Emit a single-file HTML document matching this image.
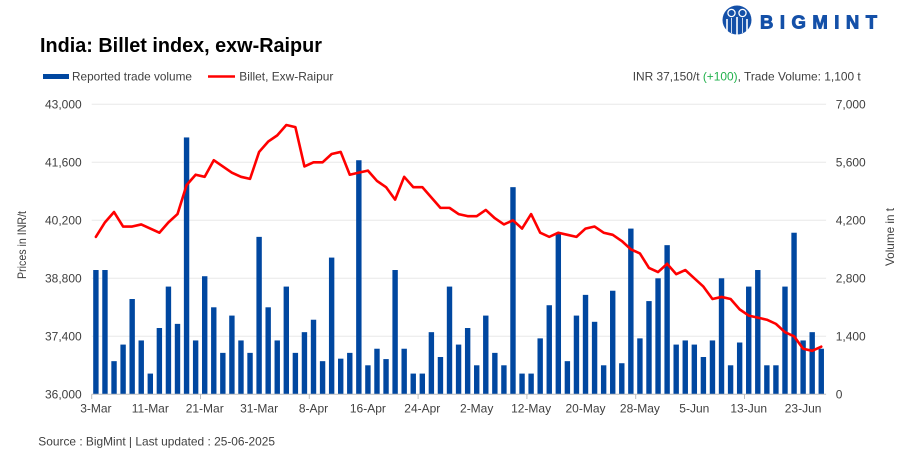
<!DOCTYPE html>
<html>
<head>
<meta charset="utf-8">
<style>
  html, body { margin: 0; padding: 0; background: #ffffff; }
  body { width: 913px; height: 464px; overflow: hidden; }
  svg { display: block; font-family: "Liberation Sans", Arial, sans-serif; }
  .lbl { font-size: 12px; fill: #404040; }
</style>
</head>
<body>
<svg width="913" height="464" viewBox="0 0 913 464" xmlns="http://www.w3.org/2000/svg">
  <rect x="0" y="0" width="913" height="464" fill="#ffffff"/>

  <!-- Logo -->
  <g>
    <circle cx="737" cy="20" r="14.5" fill="#1450a8"/>
    <circle cx="731.5" cy="13" r="3.6" fill="#1450a8" stroke="#ffffff" stroke-width="1.3"/>
    <circle cx="742.5" cy="13" r="3.6" fill="#1450a8" stroke="#ffffff" stroke-width="1.3"/>
    <path d="M727 19 L727 33 M737 17 L737 35 M747 19 L747 33" stroke="#ffffff" stroke-width="1.6" fill="none"/>
    <path d="M731.5 18 L731.5 33 M742.5 18 L742.5 33" stroke="#ffffff" stroke-width="0.8" fill="none"/>
    <text x="760" y="28.5" font-size="18.5" font-weight="bold" fill="#1450a8" stroke="#1450a8" stroke-width="0.9" textLength="117" lengthAdjust="spacing">BIGMINT</text>
  </g>

  <!-- Title -->
  <text x="40" y="52" font-size="20" font-weight="bold" fill="#000000" textLength="282" lengthAdjust="spacingAndGlyphs">India: Billet index, exw-Raipur</text>

  <!-- Legend -->
  <rect x="43" y="74" width="26" height="5" fill="#0047a0"/>
  <text class="lbl" x="72" y="80.3" fill="#262626" textLength="120" lengthAdjust="spacingAndGlyphs">Reported trade volume</text>
  <line x1="208" y1="76.5" x2="235" y2="76.5" stroke="#ff0000" stroke-width="2.5"/>
  <text class="lbl" x="239.3" y="80.3" textLength="94" lengthAdjust="spacingAndGlyphs">Billet, Exw-Raipur</text>

  <!-- Info -->
  <text class="lbl" x="632.7" y="80.3" textLength="228" lengthAdjust="spacingAndGlyphs">INR 37,150/t <tspan fill="#22b14c">(+100)</tspan>, Trade Volume: 1,100 t</text>

  <!-- Gridlines -->
  <g stroke="#e8e8e8" stroke-width="1">
    <line x1="91.7" y1="104.3" x2="826.1" y2="104.3"/>
    <line x1="91.7" y1="162.3" x2="826.1" y2="162.3"/>
    <line x1="91.7" y1="220.3" x2="826.1" y2="220.3"/>
    <line x1="91.7" y1="278.3" x2="826.1" y2="278.3"/>
    <line x1="91.7" y1="336.3" x2="826.1" y2="336.3"/>
  </g>

  <!-- Bars: data coords (index, volume) -->
  <g transform="translate(95.9,394.3) scale(9.067,-0.0414286)" fill="#0047a0">
    <rect x="-0.2978" y="0" width="0.5956" height="3000"/>
    <rect x="0.7022" y="0" width="0.5956" height="3000"/>
    <rect x="1.7022" y="0" width="0.5956" height="800"/>
    <rect x="2.7022" y="0" width="0.5956" height="1200"/>
    <rect x="3.7022" y="0" width="0.5956" height="2300"/>
    <rect x="4.7022" y="0" width="0.5956" height="1300"/>
    <rect x="5.7022" y="0" width="0.5956" height="500"/>
    <rect x="6.7022" y="0" width="0.5956" height="1600"/>
    <rect x="7.7022" y="0" width="0.5956" height="2600"/>
    <rect x="8.7022" y="0" width="0.5956" height="1700"/>
    <rect x="9.7022" y="0" width="0.5956" height="6200"/>
    <rect x="10.7022" y="0" width="0.5956" height="1300"/>
    <rect x="11.7022" y="0" width="0.5956" height="2850"/>
    <rect x="12.7022" y="0" width="0.5956" height="2100"/>
    <rect x="13.7022" y="0" width="0.5956" height="1000"/>
    <rect x="14.7022" y="0" width="0.5956" height="1900"/>
    <rect x="15.7022" y="0" width="0.5956" height="1300"/>
    <rect x="16.7022" y="0" width="0.5956" height="1000"/>
    <rect x="17.7022" y="0" width="0.5956" height="3800"/>
    <rect x="18.7022" y="0" width="0.5956" height="2100"/>
    <rect x="19.7022" y="0" width="0.5956" height="1300"/>
    <rect x="20.7022" y="0" width="0.5956" height="2600"/>
    <rect x="21.7022" y="0" width="0.5956" height="1000"/>
    <rect x="22.7022" y="0" width="0.5956" height="1500"/>
    <rect x="23.7022" y="0" width="0.5956" height="1800"/>
    <rect x="24.7022" y="0" width="0.5956" height="800"/>
    <rect x="25.7022" y="0" width="0.5956" height="3300"/>
    <rect x="26.7022" y="0" width="0.5956" height="860"/>
    <rect x="27.7022" y="0" width="0.5956" height="1000"/>
    <rect x="28.7022" y="0" width="0.5956" height="5650"/>
    <rect x="29.7022" y="0" width="0.5956" height="700"/>
    <rect x="30.7022" y="0" width="0.5956" height="1100"/>
    <rect x="31.7022" y="0" width="0.5956" height="850"/>
    <rect x="32.7022" y="0" width="0.5956" height="3000"/>
    <rect x="33.7022" y="0" width="0.5956" height="1100"/>
    <rect x="34.7022" y="0" width="0.5956" height="500"/>
    <rect x="35.7022" y="0" width="0.5956" height="500"/>
    <rect x="36.7022" y="0" width="0.5956" height="1500"/>
    <rect x="37.7022" y="0" width="0.5956" height="900"/>
    <rect x="38.7022" y="0" width="0.5956" height="2600"/>
    <rect x="39.7022" y="0" width="0.5956" height="1200"/>
    <rect x="40.7022" y="0" width="0.5956" height="1600"/>
    <rect x="41.7022" y="0" width="0.5956" height="700"/>
    <rect x="42.7022" y="0" width="0.5956" height="1900"/>
    <rect x="43.7022" y="0" width="0.5956" height="1000"/>
    <rect x="44.7022" y="0" width="0.5956" height="700"/>
    <rect x="45.7022" y="0" width="0.5956" height="5000"/>
    <rect x="46.7022" y="0" width="0.5956" height="500"/>
    <rect x="47.7022" y="0" width="0.5956" height="500"/>
    <rect x="48.7022" y="0" width="0.5956" height="1350"/>
    <rect x="49.7022" y="0" width="0.5956" height="2150"/>
    <rect x="50.7022" y="0" width="0.5956" height="3900"/>
    <rect x="51.7022" y="0" width="0.5956" height="800"/>
    <rect x="52.7022" y="0" width="0.5956" height="1900"/>
    <rect x="53.7022" y="0" width="0.5956" height="2400"/>
    <rect x="54.7022" y="0" width="0.5956" height="1750"/>
    <rect x="55.7022" y="0" width="0.5956" height="700"/>
    <rect x="56.7022" y="0" width="0.5956" height="2500"/>
    <rect x="57.7022" y="0" width="0.5956" height="750"/>
    <rect x="58.7022" y="0" width="0.5956" height="4000"/>
    <rect x="59.7022" y="0" width="0.5956" height="1350"/>
    <rect x="60.7022" y="0" width="0.5956" height="2250"/>
    <rect x="61.7022" y="0" width="0.5956" height="2800"/>
    <rect x="62.7022" y="0" width="0.5956" height="3600"/>
    <rect x="63.7022" y="0" width="0.5956" height="1200"/>
    <rect x="64.7022" y="0" width="0.5956" height="1300"/>
    <rect x="65.7022" y="0" width="0.5956" height="1200"/>
    <rect x="66.7022" y="0" width="0.5956" height="900"/>
    <rect x="67.7022" y="0" width="0.5956" height="1300"/>
    <rect x="68.7022" y="0" width="0.5956" height="2800"/>
    <rect x="69.7022" y="0" width="0.5956" height="700"/>
    <rect x="70.7022" y="0" width="0.5956" height="1250"/>
    <rect x="71.7022" y="0" width="0.5956" height="2600"/>
    <rect x="72.7022" y="0" width="0.5956" height="3000"/>
    <rect x="73.7022" y="0" width="0.5956" height="700"/>
    <rect x="74.7022" y="0" width="0.5956" height="700"/>
    <rect x="75.7022" y="0" width="0.5956" height="2600"/>
    <rect x="76.7022" y="0" width="0.5956" height="3900"/>
    <rect x="77.7022" y="0" width="0.5956" height="1300"/>
    <rect x="78.7022" y="0" width="0.5956" height="1500"/>
    <rect x="79.7022" y="0" width="0.5956" height="1100"/>
  </g>

  <!-- Price line: data coords (index, price-36000) -->
  <g transform="translate(95.9,394.3) scale(9.067,-0.0414286)">
    <polyline fill="none" stroke="#ff0000" stroke-width="2.6" stroke-linejoin="round" stroke-linecap="round" vector-effect="non-scaling-stroke"
      points="0,3800 1,4150 2,4400 3,4050 4,4050 5,4100 6,4000 7,3900 8,4150 9,4350 10,5050 11,5300 12,5250 13,5650 14,5500 15,5350 16,5250 17,5200 18,5850 19,6100 20,6250 21,6500 22,6450 23,5500 24,5600 25,5600 26,5800 27,5850 28,5300 29,5350 30,5400 31,5150 32,5000 33,4700 34,5250 35,5000 36,5000 37,4750 38,4500 39,4500 40,4350 41,4300 42,4300 43,4450 44,4250 45,4100 46,4200 47,4000 48,4350 49,3900 50,3800 51,3900 52,3850 53,3800 54,4000 55,4050 56,3900 57,3850 58,3700 59,3500 60,3400 61,3050 62,2950 63,3150 64,2900 65,3000 66,2800 67,2600 68,2300 69,2350 70,2300 71,2050 72,1900 73,1850 74,1800 75,1700 76,1500 77,1400 78,1100 79,1050 80,1150"/>
  </g>

  <!-- X axis -->
  <line x1="91.7" y1="394.3" x2="826.1" y2="394.3" stroke="#bfbfbf" stroke-width="1"/>
  <g stroke="#bfbfbf" stroke-width="1">
    <line x1="91.7" y1="394.3" x2="91.7" y2="399"/>
    <line x1="200.5" y1="394.3" x2="200.5" y2="399"/>
    <line x1="309.3" y1="394.3" x2="309.3" y2="399"/>
    <line x1="418.1" y1="394.3" x2="418.1" y2="399"/>
    <line x1="526.9" y1="394.3" x2="526.9" y2="399"/>
    <line x1="635.7" y1="394.3" x2="635.7" y2="399"/>
    <line x1="744.5" y1="394.3" x2="744.5" y2="399"/>
  </g>

  <!-- X labels -->
  <g class="lbl" text-anchor="middle">
    <text x="95.9" y="412.5">3-Mar</text>
    <text x="150.3" y="412.5">11-Mar</text>
    <text x="204.7" y="412.5">21-Mar</text>
    <text x="259.1" y="412.5">31-Mar</text>
    <text x="313.5" y="412.5">8-Apr</text>
    <text x="367.9" y="412.5">16-Apr</text>
    <text x="422.3" y="412.5">24-Apr</text>
    <text x="476.7" y="412.5">2-May</text>
    <text x="531.1" y="412.5">12-May</text>
    <text x="585.5" y="412.5">20-May</text>
    <text x="639.9" y="412.5">28-May</text>
    <text x="694.3" y="412.5">5-Jun</text>
    <text x="748.7" y="412.5">13-Jun</text>
    <text x="803.1" y="412.5">23-Jun</text>
  </g>

  <!-- Left Y labels -->
  <g class="lbl" text-anchor="end">
    <text x="81.7" y="108.6">43,000</text>
    <text x="81.7" y="166.6">41,600</text>
    <text x="81.7" y="224.6">40,200</text>
    <text x="81.7" y="282.6">38,800</text>
    <text x="81.7" y="340.6">37,400</text>
    <text x="81.7" y="398.6">36,000</text>
  </g>

  <!-- Right Y labels -->
  <g class="lbl" text-anchor="start">
    <text x="835.7" y="108.6">7,000</text>
    <text x="835.7" y="166.6">5,600</text>
    <text x="835.7" y="224.6">4,200</text>
    <text x="835.7" y="282.6">2,800</text>
    <text x="835.7" y="340.6">1,400</text>
    <text x="835.7" y="398.6">0</text>
  </g>

  <!-- Axis titles -->
  <text class="lbl" transform="translate(26,245) rotate(-90)" text-anchor="middle" textLength="68" lengthAdjust="spacingAndGlyphs">Prices in INR/t</text>
  <text class="lbl" transform="translate(894,237) rotate(-90)" text-anchor="middle" textLength="58" lengthAdjust="spacingAndGlyphs">Volume in t</text>

  <!-- Source -->
  <text class="lbl" x="38.3" y="445.5" fill="#262626" textLength="236.7" lengthAdjust="spacingAndGlyphs">Source : BigMint | Last updated : 25-06-2025</text>
</svg>
</body>
</html>
